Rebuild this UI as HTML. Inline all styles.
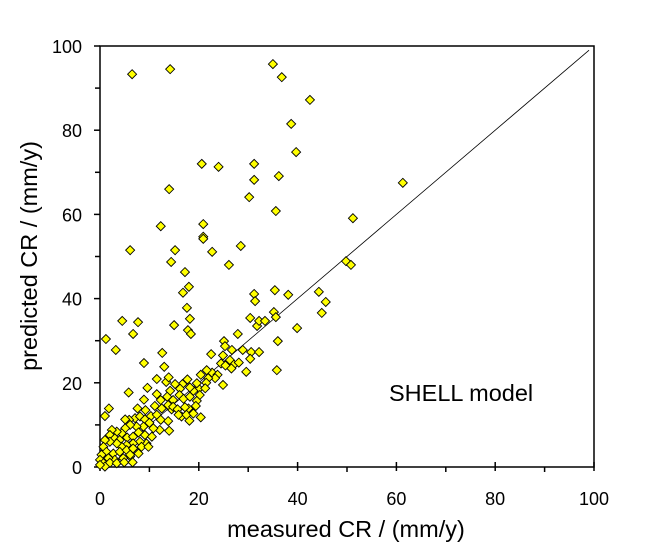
<!DOCTYPE html>
<html><head><meta charset="utf-8"><style>
body{margin:0;background:#fff;}
svg{display:block;font-family:"Liberation Sans",Arial,sans-serif;}
</style></head><body>
<svg id="chart" width="671" height="559" viewBox="0 0 671 559">
<rect x="100" y="46" width="494" height="421" fill="none" stroke="#000" stroke-width="1.5"/>
<g id="ticks"></g>
<line id="diag" stroke="#000" stroke-width="0.8"/>
<g id="pts"></g>
<text x="346" y="537" font-size="23.5" text-anchor="middle">measured CR / (mm/y)</text>
<text transform="translate(37,256) rotate(-90)" font-size="23.5" text-anchor="middle">predicted CR / (mm/y)</text>
<text x="389" y="401" font-size="23.5">SHELL model</text>
</svg>
<script>
const xTicks=[0,20,40,60,80,100];
const yTicks=[0,20,40,60,80,100];
const minorTicks=[10,30,50,70,90];
const measured=[6.5,14.2,35,36.8,42.5,38.7,39.7,20.6,24,31.2,31.2,36.2,14,30.2,61.3,35.6,51.2,12.3,20.9,20.9,20.9,6.1,15.2,22.7,28.5,14.4,26.1,17.2,49.8,50.8,18,16.8,31.2,35.4,38.1,44.3,45.7,31.4,17.6,44.9,
18.2,4.5,7.7,15,30.4,31.8,32.2,33.4,35.2,35.6,39.9,36,35.8,17.8,18.4,6.7,1.2,3.2,12.6,8.9,13,27.9,25.1,25.3,22.5,26.7,28.9,30.6,32.2,30.4,29.6,24.9,
24.9,26.3,24.5,25.4,27.1,28.1,26.6,22.7,23.8,23.3,21.6,20.4,21.9,21.5,20,19.6,21.3,20.2,18.9,18.2,17.7,16.7,16.2,15.2,16.1,16.9,18.2,19.6,17.9,20.4,18.1,16.5,14.5,14.8,14.2,13.4,13.9,11.5,9.6,11.5,12.3,13.6,12.5,11.1,9.2,8.9,5.8,7.6,7.1,5.9,5.1,8.1,9.1,10.3,11.5,12.3,13.8,12.1,14,10.8,10,8.8,7.4,6.1,5.1,4.4,3.4,2.4,2,3,4,5.5,6.7,7.8,9.1,10.5,9.4,8.1,6.7,5.4,4.4,3.4,2,1,0.7,1.3,2.7,4,5.4,6.7,6.1,4.7,3,1.7,0.3,0,0.7,2,3.4,4.9,6.6,1,0,6.1,8.4,9.8,7.8,1.8,1,13.8,14.8,15.7,17.2,19.4,15.9,17.5,18.9];
const predicted=[93.3,94.5,95.7,92.6,87.2,81.5,74.8,72,71.3,72,68.2,69.1,66,64.1,67.5,60.8,59.1,57.2,57.7,54.7,54.2,51.5,51.5,51.1,52.5,48.7,48,46.3,48.9,48,42.8,41.4,41.1,42,40.9,41.6,39.2,39.4,37.8,36.6,
35.2,34.7,34.4,33.7,35.4,33.5,34.7,34.7,36.8,35.6,33,29.9,23,32.5,31.6,31.6,30.4,27.8,27.1,24.7,23.8,31.6,29.9,28.7,26.8,27.8,27.8,27.3,27.3,25.7,22.6,19.5,
26.5,25.4,24.6,24.1,24.3,24.8,23.4,22.4,21.9,21.1,23,21.9,21.1,20,18.6,19.9,18.7,17.1,18.1,18.9,20.8,19.7,18.6,19.7,17.1,16.2,16.7,15.7,13.9,11.8,11,12,13.7,15.9,18.1,20.2,21.3,20.9,18.8,17.3,15.9,16.7,13.9,14.5,13.5,16,17.7,13.9,11.6,11.2,11.3,12,11.3,12.1,12.4,11.2,10.9,8.8,8.6,9.2,10.5,9.6,9.6,10,9.2,8,8.4,8.8,7.6,6.8,6.4,7,7.2,8.2,7.6,7.2,5.6,6,5.6,5.2,4.8,5.6,6,6.4,4.8,3.6,3.2,3.6,4,4.4,2.5,2.1,1.7,2.1,2.9,1.7,0.9,1,0.9,1.1,1.1,0.1,0.5,2.9,4.8,4.8,3.2,13.9,12.1,14.7,14.3,13.7,14.2,14.5,12.4,12.4,12.7];
const X0=100,X1=594,Y0=467,Y1=46;
const sx=v=>X0+(v/100)*(X1-X0);
const sy=v=>Y0-(v/100)*(Y0-Y1);
const NS="http://www.w3.org/2000/svg";
const tg=document.getElementById('ticks');
function ln(x1,y1,x2,y2,name){
 const l=document.createElementNS(NS,'line');
 l.setAttribute('x1',x1);l.setAttribute('x2',x2);l.setAttribute('y1',y1);l.setAttribute('y2',y2);
 l.setAttribute('stroke','#000');l.setAttribute('stroke-width','1.5');
 
 
 tg.appendChild(l);
}
xTicks.forEach(t=>{
 ln(sx(t),Y0-5,sx(t),Y0+4,'x-tick');
 const tx=document.createElementNS(NS,'text');
 tx.setAttribute('x',sx(t));tx.setAttribute('y',Y0+38);tx.setAttribute('font-size','18');tx.setAttribute('text-anchor','middle');
 tx.textContent=t;
 
 
 tg.appendChild(tx);
});
minorTicks.forEach(t=>{
 ln(sx(t),Y0,sx(t),Y0+5,'x-minor-tick');
 ln(X0-5,sy(t),X0,sy(t),'y-minor-tick');
});
yTicks.forEach(t=>{
 ln(X0-6,sy(t),X0,sy(t),'y-tick');
 const tx=document.createElementNS(NS,'text');
 tx.setAttribute('x',X0-18);tx.setAttribute('y',sy(t)+7);tx.setAttribute('font-size','18');tx.setAttribute('text-anchor','end');
 tx.textContent=t;
 
 
 tg.appendChild(tx);
});
const d=document.getElementById('diag');
d.setAttribute('x1',sx(0));d.setAttribute('y1',sy(0));d.setAttribute('x2',sx(99));d.setAttribute('y2',sy(99));
const pg=document.getElementById('pts');
measured.forEach((m,i)=>{
 const cx=sx(m),cy=sy(predicted[i]),r=4.5;
 const p=document.createElementNS(NS,'polygon');
 p.setAttribute('points',`${cx},${cy-r} ${cx+r},${cy} ${cx},${cy+r} ${cx-r},${cy}`);
 p.setAttribute('fill','#ffff00');p.setAttribute('stroke','#000');p.setAttribute('stroke-width','0.9');
 
 
 pg.appendChild(p);
});
</script>
</body></html>
